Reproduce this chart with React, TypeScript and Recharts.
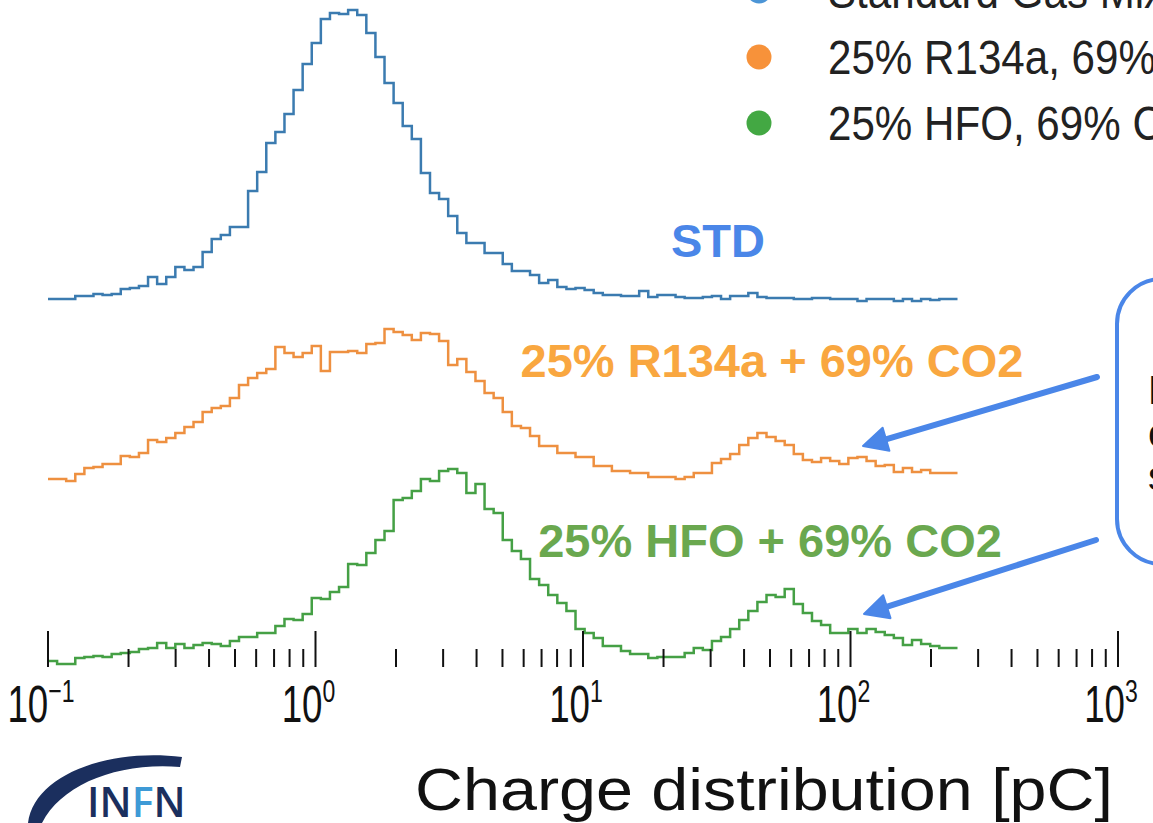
import React from 'react';
import { LineChart, Line, XAxis, YAxis } from 'recharts';

// ---------- histogram definition ----------
const N_BINS = 100;
const LOG_MIN = -1; // 0.1 pC
const LOG_MAX = 2.4; // ~251 pC

// counts (arbitrary units) per bin
const stdCounts = [
  2, 2, 2, 5, 5, 7, 6, 7, 12, 13,
  15, 24, 17, 24, 34, 31, 34, 49, 62, 66,
  74, 74, 110, 129, 158, 169, 187, 211, 237, 258,
  282, 288, 287, 291, 286, 268, 244, 218, 198, 175,
  162, 128, 108, 102, 85, 68, 58, 58, 48, 48,
  37, 30, 30, 26, 18, 21, 14, 12, 13, 11,
  8, 6, 6, 5, 5, 10, 4, 6, 6, 4,
  3, 3, 4, 5, 2, 5, 5, 8, 4, 3,
  3, 3, 2, 2, 3, 3, 2, 2, 2, 0,
  2, 2, 2, 0, 2, 0, 2, 1, 2, 2,
];
const r134aCounts = [
  3, 3, 1, 8, 14, 15, 18, 18, 26, 25,
  29, 42, 40, 44, 49, 55, 60, 70, 74, 76,
  84, 97, 104, 109, 113, 135, 129, 125, 129, 136,
  111, 130, 130, 131, 129, 138, 139, 153, 150, 147,
  142, 149, 148, 141, 117, 123, 110, 101, 89, 84,
  70, 56, 54, 46, 36, 36, 29, 29, 25, 25,
  16, 16, 11, 11, 9, 9, 5, 5, 5, 3,
  5, 9, 9, 19, 23, 28, 37, 44, 49, 45,
  41, 37, 28, 22, 20, 24, 21, 18, 24, 25,
  21, 16, 17, 10, 14, 10, 12, 9, 9, 9,
];
const hfoCounts = [
  4, 1, 1, 7, 8, 9, 8, 11, 12, 13,
  16, 17, 22, 17, 21, 17, 20, 22, 21, 19,
  24, 28, 28, 32, 32, 39, 46, 45, 51, 67,
  66, 73, 78, 101, 100, 112, 125, 134, 165, 167,
  174, 186, 184, 194, 196, 192, 172, 181, 156, 152,
  125, 114, 106, 86, 80, 70, 62, 54, 36, 32,
  27, 19, 19, 14, 11, 11, 7, 8, 8, 8,
  12, 17, 15, 24, 28, 36, 45, 54, 63, 70,
  68, 76, 61, 52, 44, 40, 32, 32, 36, 32,
  36, 33, 30, 27, 20, 25, 21, 19, 17, 17,
];

const seriesNames = [
  'Standard Gas Mixture',
  '25% R134a, 69% CO2, 5% iC4H10, 1% SF6',
  '25% HFO, 69% CO2, 5% iC4H10, 1% SF6',
];
const seriesLabels = ['STD', '25% R134a + 69% CO2', '25% HFO + 69% CO2'];
const annotationLines = ['Peak due to', 'charge from', 'streamers'];

const majorTicks = [0.1, 1, 10, 100, 1000];
const majorTickExponents = ['\u22121', '0', '1', '2', '3'];
const minorMultipliers = [2, 3, 4, 5, 6, 7, 8, 9];

// ---------- build table ----------
const data = Array.from({ length: N_BINS + 1 }, (_, k) => {
  const i = Math.min(k, N_BINS - 1);
  return {
    x: Math.pow(10, LOG_MIN + (k * (LOG_MAX - LOG_MIN)) / N_BINS),
    std: stdCounts[i],
    r134a: r134aCounts[i],
    hfo: hfoCounts[i],
  };
});

const allTicks: number[] = [];
majorTicks.forEach((m, idx) => {
  allTicks.push(m);
  if (idx < majorTicks.length - 1) minorMultipliers.forEach((mm) => allTicks.push(+(m * mm).toPrecision(3)));
});

const FONT = '"Liberation Sans", Arial, Helvetica, sans-serif';
const COLORS = { std: '#3b7bb0', r134a: '#ee9040', hfo: '#45a045' };
const LEGEND_COLORS = ['#4c95d6', '#f7923a', '#43a843'];
const LABEL_COLORS = ['#4a86e8', '#f9a740', '#6aa84f'];
const ANNOT = '#4a86e8';

const LogTick = (props: any) => {
  const { x, y, payload } = props;
  const v = payload.value;
  const idx = majorTicks.findIndex((m) => Math.abs(m - v) / m < 1e-6);
  const major = idx >= 0;
  const len = major ? 36 : 18;
  return (
    <g>
      <line x1={x} x2={x} y1={y - len} y2={y} stroke="#111" strokeWidth={2} />
      {major && (
        <g transform={`translate(${x - 7},${y + 55}) scale(0.72,1)`}>
          <text x={0} y={0} textAnchor="middle" fontFamily={FONT} fontSize={51} fill="#111">
            <tspan>10</tspan>
            <tspan dy={-20} fontSize={32}>{majorTickExponents[idx]}</tspan>
          </text>
        </g>
      )}
    </g>
  );
};

const AxisTitle = (props: any) => {
  const vb = props.viewBox || {};
  return (
    <text
      x={415}
      y={(vb.y || 667) + 143}
      textLength={698}
      lengthAdjust="spacingAndGlyphs"
      fontFamily={FONT}
      fontSize={59}
      fill="#111"
    >
      Charge distribution [pC]
    </text>
  );
};

function arrowHead(x1: number, y1: number, x2: number, y2: number, len = 24, half = 12) {
  const dx = x2 - x1, dy = y2 - y1;
  const d = Math.hypot(dx, dy);
  const ux = dx / d, uy = dy / d;
  const bx = x2 - ux * len, by = y2 - uy * len;
  const nx = -uy, ny = ux;
  return {
    line: { x1, y1, x2: bx + ux * 2, y2: by + uy * 2 },
    pts: `${x2},${y2} ${bx + nx * half},${by + ny * half} ${bx - nx * half},${by - ny * half}`,
  };
}

const arrows = [
  arrowHead(1097, 377, 863, 446),
  arrowHead(1096, 540, 864, 614),
];

export default function App() {
  return (
    <div style={{ position: 'absolute', left: 0, top: 0, width: 1153, height: 823, overflow: 'hidden', background: '#fff' }}>
      <LineChart width={1153} height={823} data={data} margin={{ top: 0, right: 35, left: 48, bottom: 0 }}>
        <XAxis
          dataKey="x"
          type="number"
          scale="log"
          domain={[0.1, 1000]}
          allowDataOverflow
          ticks={allTicks}
          interval={0}
          tick={<LogTick />}
          tickLine={false}
          axisLine={false}
          tickSize={0}
          tickMargin={0}
          height={156}
          label={<AxisTitle />}
        />
        <YAxis yAxisId="std" hide type="number" domain={[-366, 301]} allowDataOverflow />
        <YAxis yAxisId="r134a" hide type="number" domain={[-185, 482]} allowDataOverflow />
        <YAxis yAxisId="hfo" hide type="number" domain={[-2, 665]} allowDataOverflow />
        <Line yAxisId="std" dataKey="std" name={seriesNames[0]} type="stepAfter" stroke={COLORS.std} strokeWidth={2.5} dot={false} isAnimationActive={false} />
        <Line yAxisId="r134a" dataKey="r134a" name={seriesNames[1]} type="stepAfter" stroke={COLORS.r134a} strokeWidth={2.5} dot={false} isAnimationActive={false} />
        <Line yAxisId="hfo" dataKey="hfo" name={seriesNames[2]} type="stepAfter" stroke={COLORS.hfo} strokeWidth={2.5} dot={false} isAnimationActive={false} />
      </LineChart>

      <svg width={1153} height={823} style={{ position: 'absolute', left: 0, top: 0, pointerEvents: 'none' }}>
        {/* legend (cropped) */}
        {seriesNames.map((n, i) => (
          <g key={n}>
            <circle cx={759} cy={-9 + i * 66} r={12.5} fill={LEGEND_COLORS[i]} />
            <g transform={`translate(828,${8 + i * 66}) scale(0.86,1)`}>
              <text x={0} y={0} fontFamily={FONT} fontSize={49} fill="#222">{n}</text>
            </g>
          </g>
        ))}

        {/* curve labels */}
        <text x={718} y={257} textAnchor="middle" fontFamily={FONT} fontWeight="bold" fontSize={47} fill={LABEL_COLORS[0]}>{seriesLabels[0]}</text>
        <text x={772} y={377} textAnchor="middle" fontFamily={FONT} fontWeight="bold" fontSize={47} fill={LABEL_COLORS[1]}>{seriesLabels[1]}</text>
        <text x={770} y={557} textAnchor="middle" fontFamily={FONT} fontWeight="bold" fontSize={47} fill={LABEL_COLORS[2]}>{seriesLabels[2]}</text>

        {/* annotation box */}
        <rect x={1117} y={279} width={300} height={285} rx={45} ry={45} fill="none" stroke={ANNOT} strokeWidth={4} />
        {annotationLines.map((t, i) => (
          <text key={t} x={1148} y={404 + i * 43} fontFamily={FONT} fontSize={40} fill="#111">{t}</text>
        ))}
        {arrows.map((a, i) => (
          <g key={i}>
            <line {...a.line} stroke={ANNOT} strokeWidth={6} strokeLinecap="round" />
            <polygon points={a.pts} fill={ANNOT} stroke={ANNOT} strokeWidth={2} strokeLinejoin="round" />
          </g>
        ))}

        {/* INFN logo */}
        <path d="M 28 823 C 34 776, 105 748, 182 757 L 180 767 C 118 762, 62 784, 42 823 Z" fill="#1b2f5e" />
        <text x={87} y={817} fontFamily='"Open Sans", "Liberation Sans", sans-serif' fontWeight={600} fontSize={41} fill="#1b2f5e">
          IN<tspan fill="#3e9ad6">F</tspan>N
        </text>
      </svg>
    </div>
  );
}
